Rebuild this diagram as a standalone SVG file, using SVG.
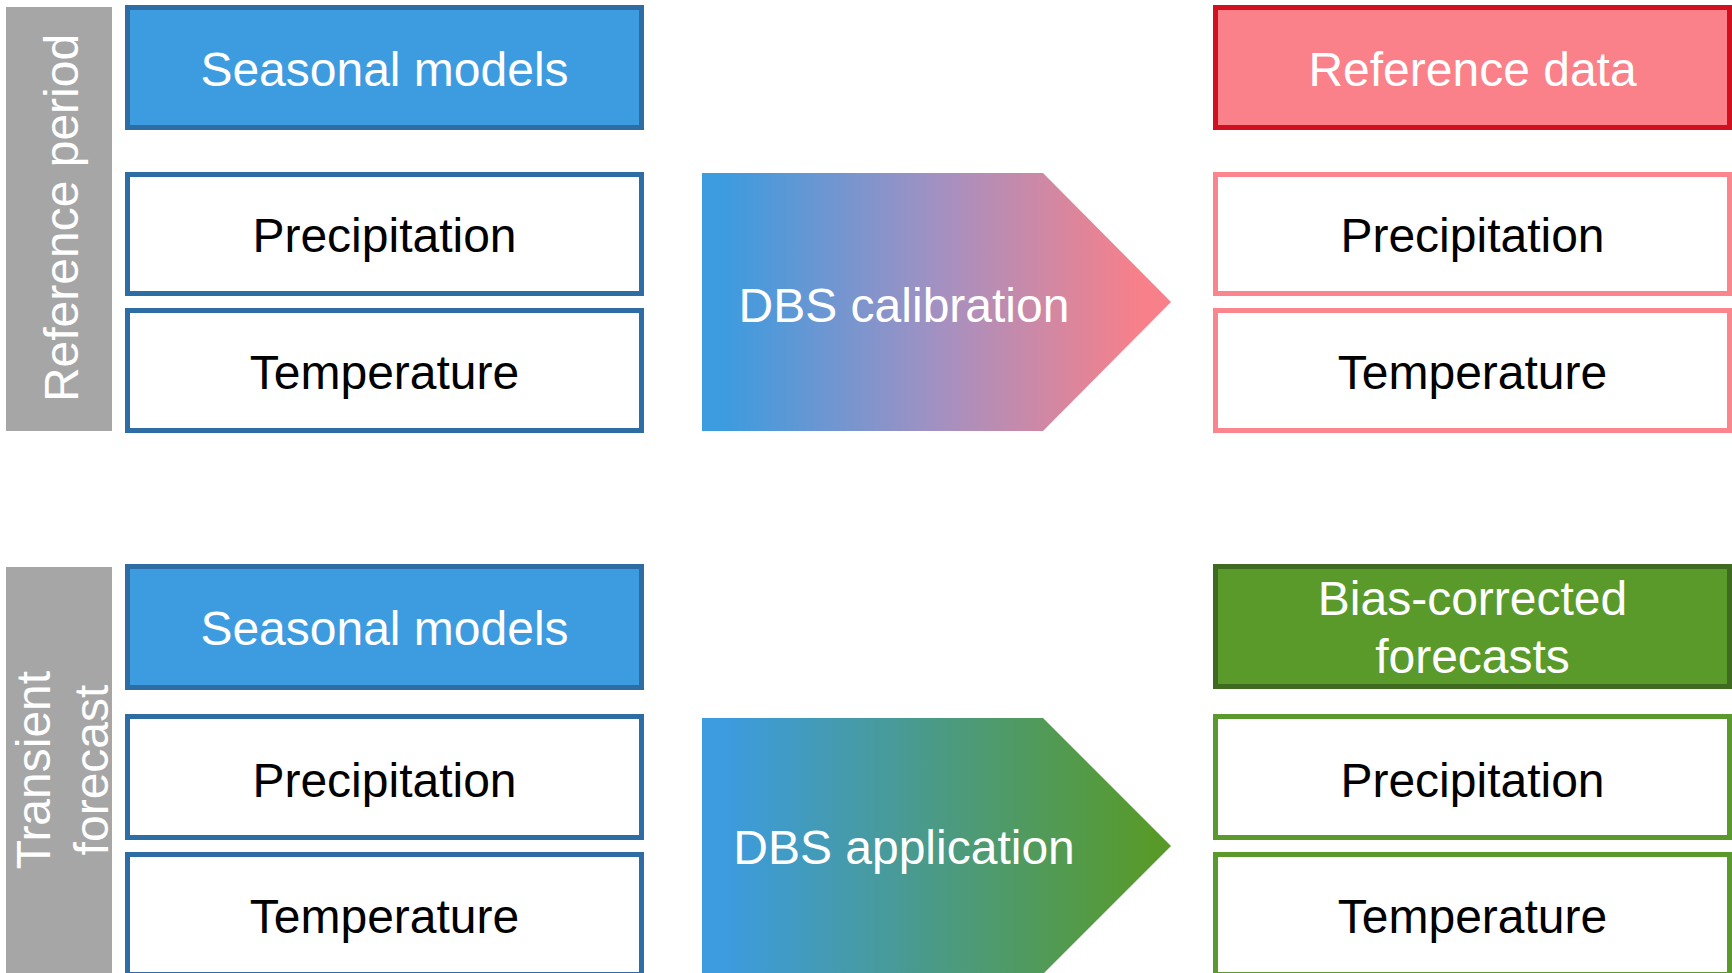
<svg xmlns="http://www.w3.org/2000/svg" width="1732" height="973" viewBox="0 0 1732 973">
  <defs>
    <linearGradient id="gradCal" x1="0" y1="0" x2="1" y2="0">
      <stop offset="0.05" stop-color="#3D9BDF"/>
      <stop offset="0.5" stop-color="#A291C2"/>
      <stop offset="0.93" stop-color="#F7808A"/>
    </linearGradient>
    <linearGradient id="gradApp" x1="0" y1="0" x2="1" y2="0">
      <stop offset="0.05" stop-color="#3D9BDF"/>
      <stop offset="0.96" stop-color="#589A2A"/>
    </linearGradient>
    <style>
      text { font-family: "Liberation Sans", Arial, sans-serif; font-size: 48px; text-anchor: middle; }
      .w { fill: #FFFFFF; }
      .k { fill: #000000; }
      .bar { fill: #A6A6A6; }
      .blueHead { fill: #3D9BDF; stroke: #2E6DA4; stroke-width: 5; }
      .blueBox { fill: #FFFFFF; stroke: #2E6DA4; stroke-width: 5; }
      .redHead { fill: #FA8089; stroke: #D20F1E; stroke-width: 5; }
      .pinkBox { fill: #FFFFFF; stroke: #FA858D; stroke-width: 5; }
      .greenHead { fill: #599A2B; stroke: #3E6B1F; stroke-width: 5; }
      .greenBox { fill: #FFFFFF; stroke: #5A9A2C; stroke-width: 5; }
    </style>
  </defs>
  <rect width="1732" height="973" fill="#FFFFFF"/>

  <!-- Side labels -->
  <g id="label-reference-period">
    <rect class="bar" x="6" y="7" width="106" height="424"/>
    <text class="w" transform="translate(78,218) rotate(-90)">Reference period</text>
  </g>
  <g id="label-transient-forecast">
    <rect class="bar" x="6" y="567" width="106" height="406"/>
    <text class="w" transform="translate(50,770) rotate(-90)"><tspan x="0" y="0">Transient</tspan><tspan x="0" dy="57.7">forecast</tspan></text>
  </g>

  <!-- Top row: reference period -->
  <g id="seasonal-models-ref">
    <rect class="blueHead" x="127.5" y="7.5" width="514" height="120"/>
    <text class="w" x="384.5" y="86">Seasonal models</text>
  </g>
  <g id="precip-models-ref">
    <rect class="blueBox" x="127.5" y="174.5" width="514" height="119"/>
    <text class="k" x="384.5" y="252">Precipitation</text>
  </g>
  <g id="temp-models-ref">
    <rect class="blueBox" x="127.5" y="310.5" width="514" height="120"/>
    <text class="k" x="384.5" y="388.5">Temperature</text>
  </g>

  <g id="dbs-calibration">
    <polygon fill="url(#gradCal)" points="702,173 1043,173 1171,302 1043,431 702,431"/>
    <text class="w" x="904" y="321.7">DBS calibration</text>
  </g>

  <g id="reference-data">
    <rect class="redHead" x="1215.5" y="7.5" width="514" height="120"/>
    <text class="w" x="1472.5" y="86">Reference data</text>
  </g>
  <g id="precip-reference">
    <rect class="pinkBox" x="1215.5" y="174.5" width="514" height="119"/>
    <text class="k" x="1472.5" y="252">Precipitation</text>
  </g>
  <g id="temp-reference">
    <rect class="pinkBox" x="1215.5" y="310.5" width="514" height="120"/>
    <text class="k" x="1472.5" y="388.5">Temperature</text>
  </g>

  <!-- Bottom row: transient forecast -->
  <g id="seasonal-models-fc">
    <rect class="blueHead" x="127.5" y="566.5" width="514" height="121"/>
    <text class="w" x="384.5" y="645">Seasonal models</text>
  </g>
  <g id="precip-models-fc">
    <rect class="blueBox" x="127.5" y="716.5" width="514" height="121"/>
    <text class="k" x="384.5" y="796.5">Precipitation</text>
  </g>
  <g id="temp-models-fc">
    <rect class="blueBox" x="127.5" y="854.5" width="514" height="120"/>
    <text class="k" x="384.5" y="933">Temperature</text>
  </g>

  <g id="dbs-application">
    <polygon fill="url(#gradApp)" points="702,718 1043,718 1171,846 1043,974 702,974"/>
    <text class="w" x="904" y="864">DBS application</text>
  </g>

  <g id="bias-corrected-forecasts">
    <rect class="greenHead" x="1215.5" y="566.5" width="514" height="120"/>
    <text class="w" x="1472.5" y="615"><tspan x="1472.5" y="615">Bias-corrected</tspan><tspan x="1472.5" y="673.3">forecasts</tspan></text>
  </g>
  <g id="precip-corrected">
    <rect class="greenBox" x="1215.5" y="716.5" width="514" height="121"/>
    <text class="k" x="1472.5" y="796.5">Precipitation</text>
  </g>
  <g id="temp-corrected">
    <rect class="greenBox" x="1215.5" y="854.5" width="514" height="120"/>
    <text class="k" x="1472.5" y="933">Temperature</text>
  </g>

  <g id="connectors"></g>
</svg>
